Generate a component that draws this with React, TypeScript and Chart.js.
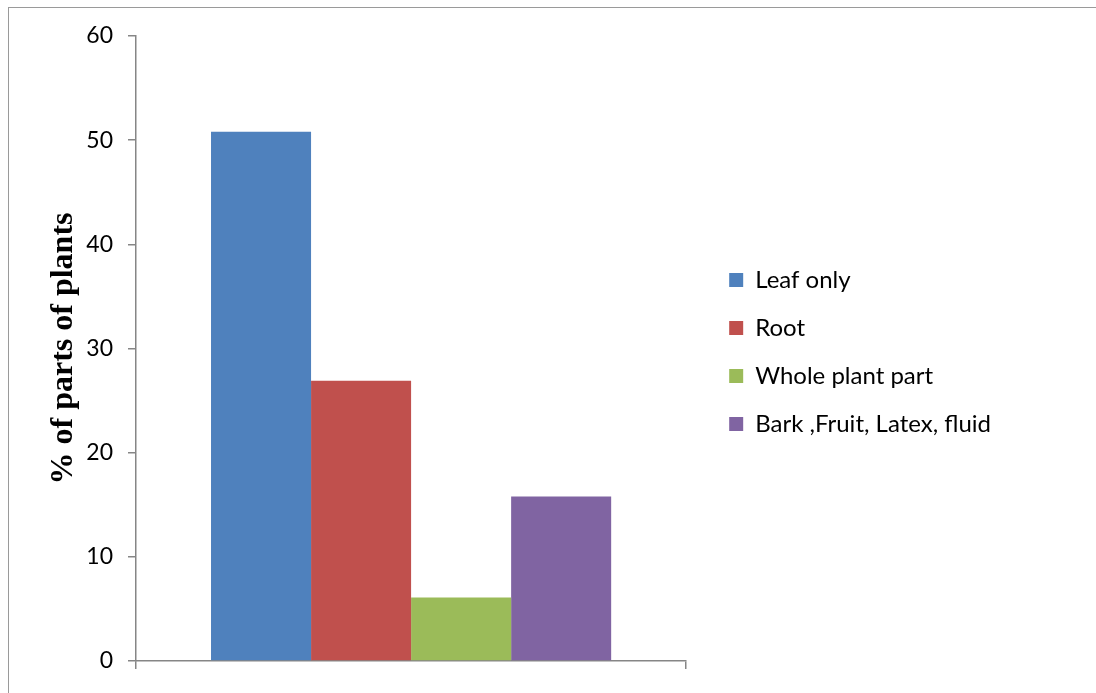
import React, { useEffect, useRef } from "react";
import { Chart, registerables } from "chart.js";

Chart.register(...registerables);

const categories: string[] = [""];
const seriesNames: string[] = ["Leaf only", "Root", "Whole plant part", "Bark ,Fruit, Latex, fluid"];
const seriesValues: number[] = [50.8, 26.9, 6.1, 15.8];
const seriesColors: string[] = ["#4F81BD", "#C0504D", "#9BBB59", "#8064A2"];
const yTicks: number[] = [0, 10, 20, 30, 40, 50, 60];
const yTitle = "% of parts of plants";

export default function App() {
  const ref = useRef<HTMLCanvasElement | null>(null);
  useEffect(() => {
    if (!ref.current) return;
    const axisColor = "#868686";
    const chart = new Chart(ref.current, {
      type: "bar",
      data: {
        labels: categories,
        datasets: seriesNames.map((name, i) => ({
          label: name,
          data: [seriesValues[i]],
          backgroundColor: seriesColors[i],
          borderWidth: 0,
          barPercentage: 1,
          categoryPercentage: 0.7273,
        })),
      },
      options: {
        responsive: false,
        animation: false,
        devicePixelRatio: 1,
        layout: { padding: { left: 0, top: 36, right: 95, bottom: 25 } },
        plugins: {
          tooltip: { enabled: false },
          legend: {
            position: "right",
            align: "center",
            maxWidth: 420,
            labels: {
              boxWidth: 14,
              boxHeight: 14,
              padding: 24,
              color: "#000",
              font: { family: "Lato", size: 24 },
            },
          },
        },
        scales: {
          x: {
            grid: {
              display: true,
              drawOnChartArea: false,
              drawTicks: true,
              tickLength: 8,
              offset: true,
              color: axisColor,
              lineWidth: 1.5,
            },
            border: { display: true, color: axisColor, width: 1.5 },
            ticks: { display: false },
            afterFit: (scale: any) => {
              scale.height = 7;
            },
          },
          y: {
            min: 0,
            max: 60,
            afterBuildTicks: (scale: any) => {
              scale.ticks = yTicks.map((v) => ({ value: v }));
            },
            grid: {
              display: true,
              drawOnChartArea: false,
              drawTicks: true,
              tickLength: 8,
              color: axisColor,
              lineWidth: 1.5,
            },
            border: { display: true, color: axisColor, width: 1.5 },
            ticks: {
              color: "#000",
              padding: 15,
              font: { family: "Lato", size: 23 },
            },
            title: {
              display: true,
              text: yTitle,
              color: "#000",
              font: { family: "Liberation Serif", size: 32, weight: "bold" },
              padding: { top: 45, bottom: 0 },
            },
            afterFit: (scale: any) => {
              scale.width = 136;
            },
          },
          gap: {
            type: "linear",
            position: "right",
            weight: 0,
            display: true,
            grid: { display: false },
            border: { display: false },
            ticks: { display: false },
            afterFit: (scale: any) => {
              scale.width = 19;
            },
          },
        },
      },
    });
    return () => chart.destroy();
  }, []);

  return (
    <div style={{ position: "fixed", left: 0, top: 0, width: 1096, height: 693, overflow: "hidden", background: "#fff" }}>
      <div
        style={{
          position: "absolute",
          left: 8,
          top: 7,
          width: 2000,
          height: 2000,
          borderTop: "1px solid #9a9a9a",
          borderLeft: "1px solid #9a9a9a",
        }}
      />
      <canvas ref={ref} width={1096} height={693} style={{ position: "absolute", left: 0, top: 0 }} />
    </div>
  );
}
